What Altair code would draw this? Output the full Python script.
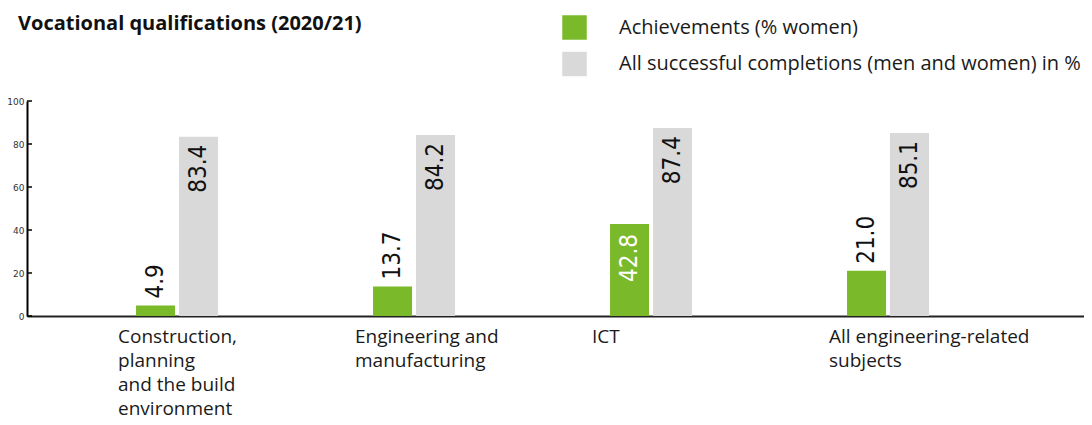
import altair as alt
import pandas as pd

categories = [
    "Construction,\nplanning\nand the build\nenvironment",
    "Engineering and\nmanufacturing",
    "ICT",
    "All engineering-related\nsubjects",
]
achievements_women = [4.9, 13.7, 42.8, 21.0]
all_completions = [83.4, 84.2, 87.4, 85.1]
series_names = ["Achievements (% women)", "All successful completions (men and women) in %"]
y_ticks = [0, 20, 40, 60, 80, 100]

rows = []
for c, a, t in zip(categories, achievements_women, all_completions):
    rows.append({"category": c, "series": series_names[0], "value": a, "label": f"{a:.1f}"})
    rows.append({"category": c, "series": series_names[1], "value": t, "label": f"{t:.1f}"})
df = pd.DataFrame(rows)
ticks_df = pd.DataFrame({"value": y_ticks})

FONT = "Open Sans"
NUM_FONT = "Liberation Sans Narrow, DejaVu Sans Condensed, sans-serif"

x_enc = alt.X(
    "category:N",
    sort=categories,
    scale=alt.Scale(paddingInner=0.654, paddingOuter=0.557, align=0.413),
    axis=alt.Axis(
        title=None,
        labelExpr="split(datum.label, '\\n')",
        labelAlign="left",
        labelOffset=-59,
        labelBaseline="top",
        labelPadding=11,
        labelFontSize=19,
        labelLineHeight=24,
        labelFont=FONT,
        labelColor="#1a1a1a",
        labelAngle=0,
        labelLimit=0,
        ticks=False,
        domainColor="#222",
        domainWidth=2,
    ),
)
y_enc = alt.Y(
    "value:Q",
    scale=alt.Scale(domain=[0, 100]),
    axis=alt.Axis(
        values=y_ticks,
        title=None,
        ticks=False,
        grid=False,
        labelFontSize=9,
        labelFont="DejaVu Sans",
        labelColor="#333",
        labelPadding=3,
        domainColor="#000",
        domainWidth=2,
    ),
)
xoff = alt.XOffset("series:N", sort=series_names, scale=alt.Scale(paddingInner=0.093, paddingOuter=0))

base = alt.Chart(df)

bars = base.mark_bar().encode(
    x=x_enc,
    xOffset=xoff,
    y=y_enc,
    color=alt.Color(
        "series:N",
        sort=series_names,
        scale=alt.Scale(domain=series_names, range=["#7ab929", "#d9d9d9"]),
        legend=alt.Legend(
            title=None,
            orient="none",
            legendX=535,
            legendY=-86,
            symbolType="square",
            symbolSize=600,
            symbolStrokeWidth=0,
            symbolOpacity=1,
            labelFontSize=20,
            labelFont=FONT,
            labelColor="#1a1a1a",
            labelOffset=32,
            rowPadding=11.5,
            labelLimit=0,
            padding=0,
        ),
    ),
)

grey_text = base.transform_filter(alt.datum.series == series_names[1]).mark_text(
    angle=270, align="right", baseline="middle", dx=-8, font=NUM_FONT, fontSize=24, color="#111"
).encode(x=alt.X("category:N", sort=categories), xOffset=xoff, y="value:Q", text="label:N")

green_out = base.transform_filter(
    (alt.datum.series == series_names[0]) & (alt.datum.value < 30)
).mark_text(
    angle=270, align="left", baseline="middle", dx=7, font=NUM_FONT, fontSize=24, color="#111"
).encode(x=alt.X("category:N", sort=categories), xOffset=xoff, y="value:Q", text="label:N")

green_in = base.transform_filter(
    (alt.datum.series == series_names[0]) & (alt.datum.value >= 30)
).mark_text(
    angle=270, align="right", baseline="middle", dx=-10, font=NUM_FONT, fontSize=24, color="#ffffff"
).encode(x=alt.X("category:N", sort=categories), xOffset=xoff, y="value:Q", text="label:N")

tick_marks = alt.Chart(ticks_df).mark_rule(color="#000", strokeWidth=1.5).encode(
    y="value:Q", x=alt.value(0), x2=alt.value(5)
)

chart = (
    alt.layer(bars, grey_text, green_out, green_in, tick_marks)
    .properties(
        width=1057,
        height=215,
        padding={"left": 19, "top": 93, "right": 0, "bottom": 109},
        autosize=alt.AutoSizeParams(type="none"),
        title=alt.Title(
            "Vocational qualifications (2020/21)",
            anchor="start",
            frame="group",
            dx=-9,
            dy=19,
            offset=0,
            font=FONT,
            fontSize=20,
            fontWeight="bold",
            color="#111",
        ),
    )
    .configure_view(stroke=None)
    .configure_axis(grid=False)
)

chart.save("out.html", embed_options={"renderer": "svg", "actions": False})
